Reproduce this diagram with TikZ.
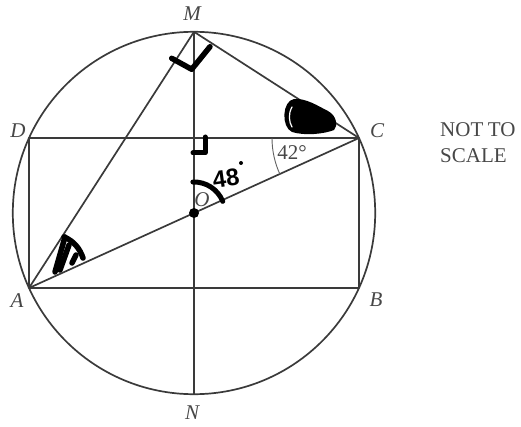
\documentclass[tikz,border=0pt]{standalone}
\usepackage{fontspec}
\setmainfont{Liberation Serif}
\newfontfamily\handfont{Liberation Sans}
\definecolor{linegray}{HTML}{3A3A3A}
\definecolor{textgray}{HTML}{474747}
\begin{document}
\begin{tikzpicture}[x=1pt,y=1pt,line join=round,
  geo/.style={draw=linegray,line width=1.7pt},
  thingeo/.style={draw=linegray!80,line width=0.9pt},
  lbl/.style={text=textgray,font=\fontsize{21}{24}\selectfont\itshape,inner sep=0pt},
  txt/.style={text=textgray,font=\fontsize{21}{24}\selectfont,inner sep=0pt},
  hand/.style={draw=black,line width=5.5pt,line cap=round,line join=round}]
\useasboundingbox (0,0) rectangle (521,426);
\coordinate (O) at (194,213);
\coordinate (A) at (29,138);
\coordinate (B) at (359,138);
\coordinate (C) at (359,288);
\coordinate (D) at (29,288);
\coordinate (M) at (194,394.2);
\coordinate (N) at (194,31.8);
% geometry
\draw[geo] (O) circle (181.2);
\draw[geo] (A) -- (B) -- (C) -- (D) -- cycle;
\draw[geo] (A) -- (C);
\draw[geo] (M) -- (N);
\draw[geo] (A) -- (M) -- (C);
\draw[thingeo] ([shift={(180:87)}]C) arc (180:204.44:87);
% labels
\node[lbl] (lM) at (192,412) {M};
\node[lbl] (lD) at (18,295) {D};
\node[lbl] (lC) at (377,295) {C};
\node[lbl] (lA) at (17,125) {A};
\node[lbl] (lB) at (376,126) {B};
\node[lbl] (lN) at (192,13) {N};
\node[lbl] (lO) at (202,226) {O};
\node[txt] (l42) at (292,273) {42°};
\node[txt,anchor=west] (n1) at (440,296) {NOT\hspace{4.5pt}TO};
\node[txt,anchor=west] (n2) at (440,270) {SCALE};
% handwritten marks
\draw[hand] (171.7,367.7) -- (191.7,356.7) -- (210,379.3);
\draw[hand,line width=5pt] (205,289) -- (205,273) -- (193,273);
\draw[hand,line width=5pt] ([shift={(22:31)}]O) arc (22:92:31);
\fill[black] (O) circle (5);
\node[font=\handfont\bfseries\fontsize{24}{26}\selectfont,rotate=8,inner sep=0pt] (h48) at (226,248) {48};
\fill[black] (241,263) circle (2);
% blob at C
\fill[black] (294,327) .. controls (282,325) and (281,299) .. (292,294)
  .. controls (305,290) and (324,292) .. (334,296)
  .. controls (338,300) and (337,310) .. (328,315)
  .. controls (318,320) and (306,328) .. (294,327) -- cycle;
\draw[white,line width=1.2pt,line cap=round] (292,319) .. controls (288,312) and (289,304) .. (292,299);
% marks at A
\draw[hand] (55,154) -- (65,189);
\draw[hand] (60,156) -- (69,181);
\draw[hand] (64,189) .. controls (74,185) and (80,177) .. (83,168);
\draw[hand] (76,171) -- (72,163);
\end{tikzpicture}
\end{document}
